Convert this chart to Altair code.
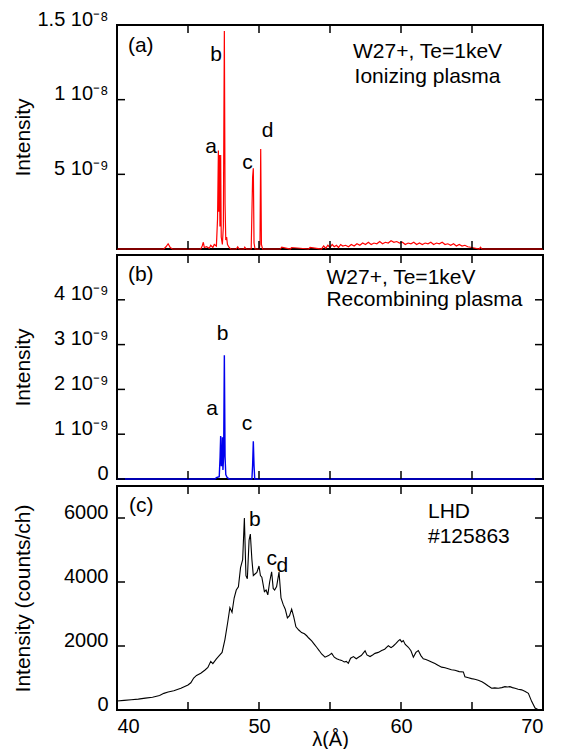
import altair as alt
import pandas as pd

W, H = 426, 224
FONT = "Liberation Sans"

# ---------------- panel (a): ionizing plasma, red (intensity in units of 1e-9) ----------
lam_a = [40.0, 43.3, 43.45, 43.6, 43.75, 43.9, 45.9, 46.0, 46.08, 46.15, 46.3, 46.5, 46.6,
         46.75, 46.85, 47.0, 47.08, 47.14, 47.17, 47.21, 47.25, 47.30, 47.34, 47.42, 47.49,
         47.56, 47.61, 47.66, 47.72, 47.78, 47.9, 48.0, 48.4, 48.5, 48.6, 48.95, 49.0, 49.1,
         49.45, 49.55, 49.60, 49.65, 49.72, 50.02, 50.07, 50.12, 50.17, 50.25, 51.5, 51.6,
         52.2, 52.3, 53.5, 53.6, 54.4, 54.55, 54.7, 54.85, 55.0, 55.15, 55.3, 55.45, 55.6,
         55.75, 55.9, 56.1, 56.3, 56.5, 56.7, 56.9, 57.1, 57.3, 57.5, 57.7, 57.9, 58.1, 58.3,
         58.5, 58.7, 58.9, 59.1, 59.3, 59.5, 59.7, 59.9, 60.1, 60.3, 60.5, 60.7, 60.9, 61.1,
         61.3, 61.5, 61.7, 61.9, 62.1, 62.3, 62.5, 62.7, 62.9, 63.1, 63.3, 63.5, 63.7, 63.9,
         64.1, 64.3, 64.5, 64.7, 65.0, 65.5, 65.6, 65.7, 70.0]
int_a = [0.0, 0.0, 0.15, 0.35, 0.1, 0.0, 0.0, 0.2, 0.45, 0.1, 0.15, 0.05, 0.25,
         0.1, 0.3, 0.2, 2.0, 6.6, 2.5, 6.3, 1.5, 6.3, 0.8, 0.3, 1.5,
         14.6, 3.0, 0.6, 0.8, 0.3, 0.1, 0.0, 0.0, 0.15, 0.0, 0.0, 0.12, 0.0,
         0.0, 4.8, 5.4, 0.4, 0.0, 0.0, 0.3, 6.7, 0.3, 0.0, 0.0, 0.12,
         0.0, 0.1, 0.0, 0.1, 0.0, 0.2, 0.05, 0.25, 0.1, 0.3, 0.15, 0.25, 0.1,
         0.3, 0.2, 0.25, 0.15, 0.3, 0.2, 0.35, 0.25, 0.4, 0.3, 0.45, 0.3, 0.4, 0.35,
         0.5, 0.35, 0.45, 0.4, 0.55, 0.45, 0.5, 0.4, 0.45, 0.3, 0.4, 0.35, 0.45, 0.3,
         0.4, 0.3, 0.4, 0.35, 0.45, 0.3, 0.4, 0.35, 0.45, 0.3, 0.35, 0.25, 0.35, 0.2,
         0.3, 0.2, 0.25, 0.15, 0.1, 0.0, 0.12, 0.0, 0.0]

# ---------------- panel (b): recombining plasma, blue (units of 1e-9) ----------
lam_b = [40.0, 46.9, 47.0, 47.2, 47.26, 47.30, 47.34, 47.39, 47.42, 47.46, 47.51, 47.56,
         47.61, 47.66, 47.75, 47.9, 49.5, 49.55, 49.60, 49.65, 49.7, 70.0]
int_b = [0.0, 0.0, 0.03, 0.05, 0.5, 0.96, 0.3, 0.3, 0.93, 0.2, 0.5, 2.76,
         0.5, 0.1, 0.04, 0.0, 0.0, 0.3, 0.84, 0.3, 0.0, 0.0]

# ---------------- panel (c): LHD #125863 measured spectrum (counts/ch) ----------
lam_c = [40.0, 40.5, 41.0, 41.5, 42.0, 42.5, 43.0, 43.3, 43.6, 44.0, 44.5, 45.0, 45.2,
         45.4, 45.6, 45.9, 46.2, 46.4, 46.6, 46.75, 47.0, 47.2, 47.4, 47.6, 47.8, 47.95,
         48.1, 48.25, 48.4, 48.55, 48.7, 48.85, 48.97, 49.08, 49.18, 49.3, 49.39, 49.5,
         49.6, 49.72, 49.85, 50.0, 50.1, 50.2, 50.38, 50.5, 50.62, 50.75, 50.89, 51.0,
         51.1, 51.24, 51.41, 51.55, 51.7, 51.85, 52.0, 52.15, 52.3, 52.45, 52.6, 52.8,
         53.0, 53.2, 53.36, 53.5, 53.71, 53.9, 54.06, 54.25, 54.41, 54.65, 54.9, 55.12,
         55.3, 55.47, 55.65, 55.82, 56.0, 56.15, 56.29, 56.45, 56.65, 56.85, 57.0, 57.2,
         57.47, 57.6, 57.82, 58.0, 58.17, 58.4, 58.64, 58.85, 59.11, 59.3, 59.46, 59.65,
         59.81, 59.93, 60.05, 60.16, 60.3, 60.52, 60.7, 60.87, 61.05, 61.22, 61.4, 61.57,
         61.75, 61.92, 62.15, 62.39, 62.6, 62.86, 63.1, 63.33, 63.55, 63.8, 64.1, 64.39,
         64.5, 64.75, 64.97, 65.2, 65.44, 65.7, 65.9, 66.15, 66.38, 66.6, 66.85, 67.1,
         67.32, 67.5, 67.67, 67.85, 68.03, 68.25, 68.5, 68.75, 68.97, 69.2, 69.44, 69.67,
         69.8]
int_c = [280, 300, 320, 340, 370, 400, 450, 520, 560, 600, 680, 780, 850,
         1000, 1080, 1150, 1250, 1330, 1520, 1450, 1600, 1700, 1800, 2200, 2750, 3200,
         3050, 3500, 3750, 3850, 4450, 4700, 6000, 4200, 4100, 5300, 5500, 4700,
         4200, 4250, 4300, 4500, 4200, 4150, 3700, 3750, 3600, 4000, 4320, 3800,
         3750, 3860, 4310, 3500, 3300, 3150, 2880, 2950, 3150, 2900, 2600, 2500,
         2420, 2380, 2320, 2250, 2160, 2050, 1960, 1850, 1750, 1650, 1700, 1770,
         1650, 1600, 1570, 1550, 1500, 1520, 1460, 1620, 1670, 1600, 1650, 1700,
         1850, 1720, 1670, 1720, 1770, 1800, 1860, 1900, 2010, 1950, 2000, 2080,
         2160, 2200, 2130, 2170, 2050, 1960, 1850, 1650, 1800, 1860, 1700, 1600,
         1580, 1550, 1500, 1450, 1400, 1340, 1320, 1290, 1260, 1240, 1200, 1190,
         1040, 1010, 980, 960, 930, 880, 830, 750, 680, 690, 680, 700,
         730, 720, 730, 700, 680, 650, 630, 580, 520, 270, 60, 10,
         0]

# ---------------- ticks ----------
x_ticks = [40, 45, 50, 55, 60, 65, 70]
x_labels = [40, 50, 60, 70]
y_ticks_a = [5, 10, 15]
y_ticks_b = [0, 1, 2, 3, 4]
y_ticks_c = [0, 2000, 4000, 6000]

# ---------------- annotations ----------
ann_a_x = [40.77, 46.97, 46.62, 49.19, 50.6, 61.87, 61.87]
ann_a_y = [13.22, 12.57, 6.45, 5.33, 7.5, 12.76, 11.12]
ann_a_t = ["(a)", "b", "a", "c", "d", "W27+, Te=1keV", "Ionizing plasma"]
ann_a_al = ["left", "center", "center", "center", "center", "center", "center"]

ann_b_x = [40.77, 47.43, 46.69, 49.15, 54.75, 54.75]
ann_b_y = [4.42, 3.11, 1.42, 1.09, 4.36, 3.87]
ann_b_t = ["(b)", "b", "a", "c", "W27+, Te=1keV", "Recombining plasma"]
ann_b_al = ["left", "center", "center", "center", "left", "left"]

ann_c_x = [40.85, 49.7, 50.9, 51.65, 61.9, 61.9]
ann_c_y = [6185, 5754, 4523, 4308, 6000, 5231]
ann_c_t = ["(c)", "b", "c", "d", "LHD", "#125863"]
ann_c_al = ["left", "center", "center", "center", "left", "left"]

x_scale = alt.Scale(domain=[40, 70], nice=False, zero=False)


def y_axis(values, expr, title):
    return alt.Axis(values=values, labelExpr=expr, ticks=False, tickSize=0, domain=False,
                    grid=False, labelFont=FONT, labelFontSize=20, labelColor="black",
                    labelBaseline="alphabetic", labelPadding=9, labelOverlap=False,
                    title=title, titleFont=FONT, titleFontSize=21, titleFontWeight="normal",
                    titleColor="black", titleAngle=270, titleBaseline="alphabetic",
                    titleAlign="center", titleX=-88, titleY=H / 2)


def panel(lam, inten, color, width, yscale, yaxis, yticks, ax, ay, at, aal, xaxis):
    X = dict(field="x", type="quantitative", scale=x_scale, axis=xaxis)
    Y = dict(field="y", type="quantitative", scale=yscale, axis=yaxis)
    line = alt.Chart(pd.DataFrame({"x": lam, "y": inten})).mark_line(
        color=color, strokeWidth=width, interpolate="linear").encode(
        x=alt.X(**X), y=alt.Y(**Y))
    xt = pd.DataFrame({"x": x_ticks})
    yt = pd.DataFrame({"y": yticks})
    tk = dict(color="black", strokeWidth=1.5)
    bot = alt.Chart(xt).mark_rule(**tk).encode(
        x=alt.X(**X), y=alt.value(H), y2=alt.value(H - 8))
    top = alt.Chart(xt).mark_rule(**tk).encode(
        x=alt.X(**X), y=alt.value(0), y2=alt.value(8))
    left = alt.Chart(yt).mark_rule(**tk).encode(
        y=alt.Y(**Y), x=alt.value(0), x2=alt.value(8))
    right = alt.Chart(yt).mark_rule(**tk).encode(
        y=alt.Y(**Y), x=alt.value(W - 8), x2=alt.value(W))
    layers = [line, bot, top, left, right]
    adf = pd.DataFrame({"x": ax, "y": ay, "t": at, "al": aal})
    for al in ["left", "center"]:
        sub = adf[adf["al"] == al]
        if len(sub):
            layers.append(alt.Chart(sub).mark_text(
                align=al, baseline="alphabetic", font=FONT, fontSize=21, color="black").encode(
                x=alt.X(**X), y=alt.Y(**Y), text="t:N"))
    return alt.layer(*layers).properties(width=W, height=H)


sup9 = "10\u207b\u2079"
sup8 = "10\u207b\u2078"

pa = panel(lam_a, int_a, "#ff0000", 1.2, alt.Scale(domain=[0, 15], nice=False),
           y_axis(y_ticks_a,
                  f"datum.value == 5 ? '5 {sup9}' : datum.value == 10 ? '1 {sup8}' : '1.5 {sup8}'",
                  "Intensity"),
           y_ticks_a, ann_a_x, ann_a_y, ann_a_t, ann_a_al, None)

pb = panel(lam_b, int_b, "#0000ee", 1.4, alt.Scale(domain=[0, 5], nice=False),
           y_axis(y_ticks_b, f"datum.value == 0 ? '0' : datum.value + ' {sup9}'", "Intensity"),
           y_ticks_b, ann_b_x, ann_b_y, ann_b_t, ann_b_al, None)

x_axis_c = alt.Axis(values=x_labels, ticks=False, tickSize=0, domain=False, grid=False,
                    labelFont=FONT, labelFontSize=20, labelColor="black", labelPadding=6,
                    title="λ(Å)", titleFont=FONT, titleFontSize=20, titleFontWeight="normal",
                    titleColor="black", titleY=19, titleBaseline="top")

pc = panel(lam_c, int_c, "black", 1.1, alt.Scale(domain=[0, 7000], nice=False),
           y_axis(y_ticks_c, "datum.value", "Intensity (counts/ch)"),
           y_ticks_c, ann_c_x, ann_c_y, ann_c_t, ann_c_al, x_axis_c)

chart = alt.vconcat(pa, pb, pc, spacing=0).properties(
    padding={"top": 0, "left": 3, "right": 5, "bottom": 0}
).configure_view(stroke="black", strokeWidth=2)

chart.save("out.html", embed_options={"renderer": "svg", "actions": False})
